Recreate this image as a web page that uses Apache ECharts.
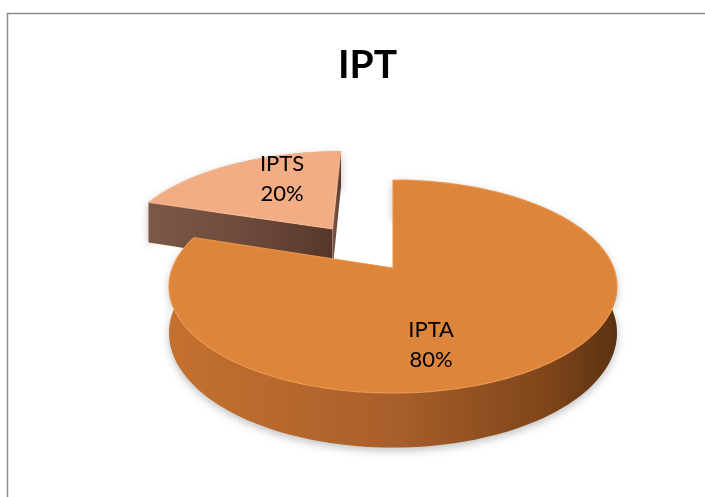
<!DOCTYPE html>
<html>
<head>
<meta charset="utf-8">
<script src="https://cdn.jsdelivr.net/npm/echarts@6/dist/echarts.min.js"></script>
<style>
html, body { margin: 0; padding: 0; background: #fff; overflow: hidden; }
#main { width: 705px; height: 497px; }
</style>
</head>
<body>
<div id="main"></div>
<script>
// chart data
var categories = ['IPTA', 'IPTS'];
var values = [80, 20];

// look of the 3d pie
var topColors = ['#dd853b', '#f3ad85'];
var sideColors = [
    ['#c4712f', '#a95f2b', '#7e4519', '#5a3212'],
    ['#7d5848', '#6e4b3c', '#5e3e30', '#553628']
];
var explode = [0, 0.5];
var labelShift = [23, 10];   // degrees, moves label away from the bisector
var view = { cx: 393, cy: 268, sx: 220.6, sy: 103.3, k: 0.174, depth: 45 };

var total = values.reduce(function (a, b) { return a + b; }, 0);
var starts = [];
var acc = 0;
values.forEach(function (v) { starts.push(acc / total * 360); acc += v; });

// pie plane (u to the right, v to the back) -> screen, z = 0 top face, 1 bottom face
function project(u, v, z) {
    var w = 1 + view.k * v;
    return [view.cx + view.sx * u / w, view.cy - (view.sy * v - view.depth * z) / w];
}

function rad(d) { return d * Math.PI / 180; }

function renderSlice(params, api) {
    var i = params.dataIndex;
    var a0 = starts[i];
    var a1 = a0 + api.value(0) / total * 360;
    var mid = rad((a0 + a1) / 2);
    var ou = explode[i] * Math.sin(mid);
    var ov = explode[i] * Math.cos(mid);

    function arc(z) {
        var pts = [];
        var n = Math.max(4, Math.ceil((a1 - a0) / 2));
        for (var s = 0; s <= n; s++) {
            var t = rad(a0 + (a1 - a0) * s / n);
            pts.push(project(ou + Math.sin(t), ov + Math.cos(t), z));
        }
        return pts;
    }
    function edge(a, z) {
        var t = rad(a);
        return project(ou + Math.sin(t), ov + Math.cos(t), z);
    }

    var top = arc(0);
    var bottom = arc(1);
    var c0 = project(ou, ov, 0);
    var c1 = project(ou, ov, 1);
    var base = explode[i] ? 0 : 20;
    var sc = sideColors[i];
    var grad = new echarts.graphic.LinearGradient(0, 0, 1, 0, [
        { offset: 0, color: sc[0] },
        { offset: 0.5, color: sc[1] },
        { offset: 0.85, color: sc[2] },
        { offset: 1, color: sc[3] }
    ]);

    var children = [];
    children.push({
        type: 'polygon',
        z2: base + 1,
        shape: { points: top.concat(bottom.slice().reverse()) },
        style: { fill: grad, shadowBlur: 8, shadowColor: 'rgba(0,0,0,0.25)', shadowOffsetY: 3 }
    });
    [a0, a1].forEach(function (a) {
        children.push({
            type: 'polygon',
            z2: base + 2,
            shape: { points: [c0, edge(a, 0), edge(a, 1), c1] },
            style: { fill: grad }
        });
    });
    children.push({
        type: 'polygon',
        z2: base + 3,
        shape: { points: [c0].concat(top) },
        style: { fill: topColors[i], stroke: explode[i] ? 'rgba(250,195,160,0.6)' : 'rgba(236,152,80,0.9)', lineWidth: 1.2 }
    });

    var la = rad((a0 + a1) / 2 + labelShift[i]);
    var lp = project(ou + 0.68 * Math.sin(la), ov + 0.68 * Math.cos(la), 0);
    children.push({
        type: 'text',
        z2: 100,
        style: {
            text: categories[i] + '\n' + Math.round(api.value(0) / total * 100) + '%',
            x: lp[0],
            y: lp[1],
            align: 'center',
            verticalAlign: 'middle',
            fontFamily: 'Lato',
            fontSize: 22,
            lineHeight: 30,
            fill: '#000'
        }
    });
    return { type: 'group', children: children };
}

var myChart = echarts.init(document.getElementById('main'));

var option = {
    animation: false,
    title: {
        text: 'IPT',
        left: 333,
        top: 41,
        textStyle: { fontFamily: 'Lato', fontSize: 39, fontWeight: 'bold', color: '#000' }
    },
    graphic: [{
        type: 'polyline',
        shape: { points: [[7.5, 520], [7.5, 13.5], [760, 13.5]] },
        style: { fill: null, stroke: '#8c8c8c', lineWidth: 1.5 },
        silent: true
    }],
    series: [{
        type: 'custom',
        coordinateSystem: 'none',
        renderItem: renderSlice,
        data: values.map(function (v, i) { return { name: categories[i], value: [v] }; })
    }]
};

myChart.setOption(option);
</script>
</body>
</html>
